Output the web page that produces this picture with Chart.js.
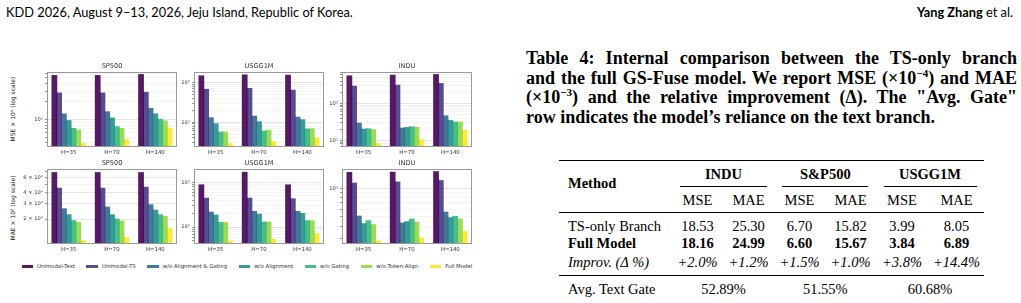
<!DOCTYPE html>
<html><head><meta charset="utf-8">
<script src="https://cdn.jsdelivr.net/npm/chart.js@4.4.1/dist/chart.umd.min.js"></script>
<style>
html,body{margin:0;padding:0;background:#fff;}
body{width:1021px;height:303px;overflow:hidden;position:relative;font-family:'DejaVu Sans',sans-serif;color:#000;}
.abs{position:absolute;white-space:nowrap;}
canvas{position:absolute;}
.hdr{font-family:Lato,'Open Sans',sans-serif;font-size:12.8px;line-height:13px;}
.cap{position:absolute;left:526px;width:491px;font-family:'Liberation Serif',serif;font-weight:bold;font-size:18px;line-height:19.5px;white-space:nowrap;}
.cap div{text-align:justify;text-align-last:justify;}
.tb{font-family:'Liberation Serif',serif;font-size:14.5px;line-height:14px;}
.rule{position:absolute;background:#000;}
.ylab{position:absolute;font-size:6px;line-height:6px;color:#222;transform:translate(-50%,-50%) rotate(-90deg);white-space:nowrap;}
#legend{position:absolute;left:21.5px;top:263px;display:flex;gap:11.5px;font-size:5.4px;line-height:7px;color:#333;white-space:nowrap;}
#legend .it{display:flex;align-items:center;}
#legend .sw{width:11.5px;height:3px;margin-right:4px;}
</style></head><body>
<div class="abs hdr" style="left:6px;top:6px;">KDD 2026, August 9–13, 2026, Jeju Island, Republic of Korea.</div>
<div class="abs hdr" style="right:8px;top:6px;"><b>Yang Zhang</b> et al.</div>

<div class="ylab" style="left:13px;top:109px;">MSE × 10⁴ (log scale)</div>
<div class="ylab" style="left:13px;top:208px;">MAE × 10² (log scale)</div>
<div id="legend"></div>

<div class="cap" style="top:49px;">
<div>Table 4: Internal comparison between the TS-only branch</div>
<div>and the full GS-Fuse model. We report MSE (×10<sup style="font-size:11px;line-height:0">−4</sup>) and MAE</div>
<div>(×10<sup style="font-size:11px;line-height:0">−3</sup>) and the relative improvement (Δ). The "Avg. Gate"</div>
<div style="text-align-last:left;">row indicates the model’s reliance on the text branch.</div>
</div>
<div id="table"></div>

<script>
// ---------- data ----------
const horizons = ['H=35', 'H=70', 'H=140'];
const methods = ['Unimodal-Text', 'Unimodal-TS', 'w/o Alignment & Gating', 'w/o Alignment', 'w/o Gating', 'w/o Token-Align', 'Full Model'];

// values per horizon (rows) x method (columns)
const sp500MSE = [
  [54.8, 27.8, 12.3, 9.5, 7.0, 6.6, 3.9],
  [54.8, 27.8, 13.4, 10.5, 7.5, 7.0, 4.5],
  [57.0, 28.5, 15.3, 12.3, 10.0, 9.4, 7.1]
];
const usgg1mMSE = [
  [150, 68, 12.9, 9.1, 5.6, 5.6, 2.85],
  [159, 72, 14.2, 10.2, 5.9, 6.2, 3.19],
  [156, 65, 13.4, 11.5, 6.7, 6.8, 3.95]
];
const induMSE = [
  [551, 291, 29.1, 20.1, 20.5, 19.3, 8.15],
  [574, 310, 21.4, 22.3, 23.2, 22.3, 10.4],
  [598, 343, 45.8, 34.3, 31.0, 31.0, 18.5]
];
const sp500MAE = [
  [6.78, 4.50, 2.62, 2.24, 1.92, 1.83, 1.136],
  [6.78, 4.50, 2.74, 2.24, 2.00, 1.90, 1.23],
  [6.78, 4.62, 2.91, 2.53, 2.24, 2.14, 1.55]
];
const usgg1mMAE = [
  [8.73, 4.41, 2.15, 1.85, 1.27, 1.25, 0.489],
  [16.7, 4.41, 2.23, 1.94, 1.29, 1.29, 0.532],
  [8.73, 4.26, 2.23, 2.01, 1.38, 1.38, 0.711]
];
const induMAE = [
  [14.6, 11.3, 5.09, 4.24, 4.56, 4.14, 2.81],
  [14.7, 11.6, 4.31, 4.45, 4.74, 4.38, 3.00],
  [14.9, 12.0, 5.61, 4.90, 5.06, 4.74, 3.52]
];

// axis limits and labelled ticks
const sp500MSERange = [3.41, 63];
const usgg1mMSERange = [2.34, 189];
const induMSERange = [6.63, 705];
const sp500MAERange = [1.04, 7.46];
const usgg1mMAERange = [0.419, 19.8];
const induMAERange = [2.60, 15.9];
const sp500MSETicks = [10];
const usgg1mMSETicks = [10, 100];
const induMSETicks = [10, 100];
const sp500MAETicks = [2, 3, 4, 6];
const usgg1mMAETicks = [1, 10];
const induMAETicks = [10];

// table text
const tableDatasets = ['INDU', 'S&P500', 'USGG1M'];
const tableMetrics = ['MSE', 'MAE', 'MSE', 'MAE', 'MSE', 'MAE'];
const tsOnlyRow = ['18.53', '25.30', '6.70', '15.82', '3.99', '8.05'];
const fullModelRow = ['18.16', '24.99', '6.60', '15.67', '3.84', '6.89'];
const improvRow = ['+2.0%', '+1.2%', '+1.5%', '+1.0%', '+3.8%', '+14.4%'];
const avgGateRow = ['52.89%', '51.55%', '60.68%'];

// ---------- styling ----------
const viridis = ['#440154', '#443983', '#31688e', '#21918c', '#35b779', '#90d743', '#fde725'];
function rgba(hex, a) {
  const n = parseInt(hex.slice(1), 16);
  return `rgba(${(n >> 16) & 255},${(n >> 8) & 255},${n & 255},${a})`;
}
const SUP = {'0':'⁰','1':'¹','2':'²','3':'³','4':'⁴','5':'⁵','6':'⁶','7':'⁷','8':'⁸','9':'⁹','-':'⁻'};
function sup(n) { return String(n).split('').map(c => SUP[c]).join(''); }
function fmtTick(v) {
  const e = Math.floor(Math.log10(v) + 1e-9);
  const m = Math.round(v / Math.pow(10, e));
  return m === 1 ? '10' + sup(e) : m + ' × 10' + sup(e);
}

const framePlugin = {
  id: 'frame',
  afterDraw(chart, args, opts) {
    const {ctx, chartArea: a} = chart;
    ctx.save();
    ctx.strokeStyle = '#9a9a9a';
    ctx.lineWidth = 1;
    ctx.strokeRect(Math.round(a.left) + 0.5, Math.round(a.top) + 0.5, Math.round(a.right - a.left) - 1, Math.round(a.bottom - a.top) - 1);
    ctx.fillStyle = '#333';
    ctx.font = '6.6px "DejaVu Sans"';
    ctx.textAlign = 'center';
    ctx.textBaseline = 'middle';
    ctx.fillText(opts.text, (a.left + a.right) / 2, a.top - 6);
    ctx.restore();
  }
};

const PAD_L = 44, PAD_T = 12, PAD_R = 3, PAD_B = 12;
const PLOT_W = 129.5, PLOT_H = 75;
function makePanel(title, values, range, labelTicks, plotLeft, plotTop) {
  const c = document.createElement('canvas');
  const w = Math.round(PLOT_W + PAD_L + PAD_R), h = PLOT_H + PAD_T + PAD_B;
  c.width = w; c.height = h;
  c.style.left = (plotLeft - PAD_L) + 'px';
  c.style.top = (plotTop - PAD_T) + 'px';
  c.style.width = w + 'px'; c.style.height = h + 'px';
  document.body.appendChild(c);
  const datasets = methods.map((m, i) => ({
    label: m,
    data: values.map(row => row[i]),
    backgroundColor: rgba(viridis[i], 0.9),
    borderWidth: 0,
    inflateAmount: 0.5,
    categoryPercentage: 0.77,
    barPercentage: 1.0
  }));
  const [mn, mx] = range;
  const allTicks = [];
  for (let e = Math.floor(Math.log10(mn)) ; e <= Math.ceil(Math.log10(mx)); e++) {
    for (let d = 1; d <= 9; d++) {
      const v = d * Math.pow(10, e);
      if (v >= mn && v <= mx) allTicks.push(v);
    }
  }
  const isLab = v => labelTicks.some(t => Math.abs(t - v) / t < 1e-6);
  new Chart(c, {
    type: 'bar',
    data: {labels: horizons, datasets},
    options: {
      responsive: false, animation: false, devicePixelRatio: 1,
      layout: {padding: {top: PAD_T, right: PAD_R, left: 0, bottom: 0}},
      plugins: {legend: {display: false}, tooltip: {enabled: false}, frame: {text: title}},
      scales: {
        x: {
          grid: {display: false, drawTicks: true, tickLength: 2},
          border: {display: false},
          ticks: {font: {size: 5.4, family: 'DejaVu Sans'}, color: '#333', padding: 0, maxRotation: 0, autoSkip: false},
          afterFit: s => { s.height = PAD_B; }
        },
        y: {
          type: 'logarithmic', min: mn, max: mx,
          afterBuildTicks: s => { s.ticks = allTicks.map(v => ({value: v})); },
          grid: {
            color: ctx => (ctx.tick && isLab(ctx.tick.value)) ? 'rgba(0,0,0,0.13)' : 'rgba(0,0,0,0.06)',
            tickColor: '#777', tickLength: 2, lineWidth: 0.8
          },
          border: {display: false},
          ticks: {
            autoSkip: false, padding: 2,
            font: {size: 5.2, family: 'DejaVu Sans'}, color: '#333',
            callback: v => isLab(v) ? fmtTick(v) : ''
          },
          afterFit: s => { s.width = PAD_L; }
        }
      }
    },
    plugins: [framePlugin]
  });
}

const colLeft = [46.5, 194.3, 341.7];
const rowTop = [72, 169];
makePanel('SP500', sp500MSE, sp500MSERange, sp500MSETicks, colLeft[0], rowTop[0]);
makePanel('USGG1M', usgg1mMSE, usgg1mMSERange, usgg1mMSETicks, colLeft[1], rowTop[0]);
makePanel('INDU', induMSE, induMSERange, induMSETicks, colLeft[2], rowTop[0]);
makePanel('SP500', sp500MAE, sp500MAERange, sp500MAETicks, colLeft[0], rowTop[1]);
makePanel('USGG1M', usgg1mMAE, usgg1mMAERange, usgg1mMAETicks, colLeft[1], rowTop[1]);
makePanel('INDU', induMAE, induMAERange, induMAETicks, colLeft[2], rowTop[1]);

// legend
const lg = document.getElementById('legend');
methods.forEach((m, i) => {
  const it = document.createElement('div'); it.className = 'it';
  it.innerHTML = `<span class="sw" style="background:${rgba(viridis[i], 0.9)}"></span><span>${m.replace('&', '&amp;')}</span>`;
  lg.appendChild(it);
});

// table
const tb = document.getElementById('table');
function txt(s, x, y, style, align) {
  const d = document.createElement('div');
  d.className = 'abs tb';
  d.textContent = s;
  d.style.top = (y - 7) + 'px';
  d.style.left = x + 'px';
  if (align !== 'left') d.style.transform = 'translateX(-50%)';
  if (style) d.style.cssText += style;
  tb.appendChild(d);
}
function rule(x1, x2, y, t) {
  const d = document.createElement('div');
  d.className = 'rule';
  d.style.left = x1 + 'px'; d.style.width = (x2 - x1) + 'px';
  d.style.top = (y - t / 2) + 'px'; d.style.height = t + 'px';
  tb.appendChild(d);
}
const colC = [697.5, 748.5, 799.5, 850.5, 902, 956.5];
const grpC = [723.5, 825.3, 930];
const grpRule = [[680, 767], [782, 868], [884, 977]];
rule(559, 984, 160.5, 1.2);
txt('Method', 568, 182.7, 'font-weight:bold;', 'left');
tableDatasets.forEach((s, i) => txt(s, grpC[i], 174, 'font-weight:bold;'));
grpRule.forEach(r => rule(r[0], r[1], 186, 0.8));
tableMetrics.forEach((s, i) => txt(s, colC[i], 200));
rule(559, 984, 212.3, 0.8);
txt('TS-only Branch', 568, 226, '', 'left');
tsOnlyRow.forEach((s, i) => txt(s, colC[i], 226));
txt('Full Model', 568, 243.3, 'font-weight:bold;', 'left');
fullModelRow.forEach((s, i) => txt(s, colC[i], 243.3, 'font-weight:bold;'));
txt('Improv. (Δ %)', 568, 261.7, 'font-style:italic;', 'left');
improvRow.forEach((s, i) => txt(s, colC[i], 261.7, 'font-style:italic;'));
rule(559, 984, 275, 0.8);
txt('Avg. Text Gate', 568, 288.5, '', 'left');
avgGateRow.forEach((s, i) => txt(s, grpC[i], 288.5));
</script>
</body></html>
